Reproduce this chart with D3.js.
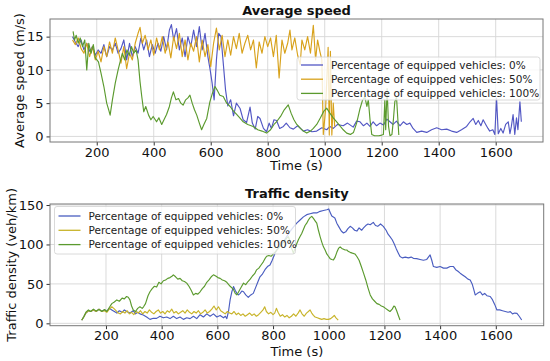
<!DOCTYPE html>
<html><head><meta charset="utf-8">
<script src="https://cdn.jsdelivr.net/npm/d3@7"></script>
<style>body{margin:0;background:#fff}svg{display:block;font-family:"DejaVu Sans",sans-serif}</style>
</head><body><svg id="c" width="550" height="361"></svg>
<script>
const seriesNames = ["Percentage of equipped vehicles: 0%","Percentage of equipped vehicles: 50%","Percentage of equipped vehicles: 100%"];
const xTicks = [200,400,600,800,1000,1200,1400,1600];
const speedTicks = [0,5,10,15];
const densityTicks = [0,50,100,150];

// Average speed (m/s): [time, value]
const speed0 = [[115,15.0],[125,14.2],[135,13.5],[145,14.5],[155,13.0],[165,14.0],[175,12.8],[185,13.5],[195,12.2],[205,13.0],[215,12.5],[225,13.8],[235,12.0],[245,13.5],[255,13.0],[265,14.0],[275,12.5],[285,13.2],[295,14.5],[305,11.5],[315,14.0],[325,12.0],[335,13.5],[345,12.5],[355,14.8],[365,13.0],[375,14.5],[385,12.0],[395,13.8],[405,12.5],[415,14.0],[425,12.8],[435,15.0],[445,13.0],[455,16.0],[462,16.8],[470,14.5],[480,16.2],[490,13.0],[500,14.8],[510,12.0],[520,15.0],[530,13.5],[540,16.0],[550,13.5],[560,16.5],[570,13.0],[580,15.5],[590,12.0],[598,10.0],[605,8.0],[612,5.5],[620,11.5],[628,15.5],[636,15.0],[645,10.5],[652,7.0],[660,4.6],[670,5.5],[680,3.1],[690,5.0],[703,4.2],[714,2.5],[726,2.1],[738,4.4],[746,2.0],[756,1.1],[765,3.0],[773,2.7],[785,1.2],[796,0.7],[805,2.0],[813,1.2],[822,2.5],[831,2.4],[842,1.2],[855,1.5],[865,2.0],[878,1.3],[890,1.1],[905,1.6],[915,1.2],[925,0.8],[940,1.0],[955,0.7],[972,0.8],[990,1.3],[1007,1.0],[1018,1.5],[1030,1.2],[1045,1.8],[1065,1.6],[1080,2.0],[1100,1.4],[1112,2.3],[1124,2.2],[1136,1.6],[1148,2.0],[1159,1.5],[1170,2.2],[1182,1.6],[1194,2.0],[1206,1.7],[1218,2.6],[1229,2.2],[1240,1.8],[1252,2.3],[1264,1.6],[1276,2.2],[1288,1.8],[1299,2.0],[1310,1.2],[1323,0.6],[1340,0.8],[1358,0.6],[1375,1.0],[1393,1.3],[1410,1.0],[1428,1.1],[1445,0.8],[1463,0.6],[1480,1.0],[1498,1.5],[1510,2.2],[1521,2.7],[1530,1.8],[1539,2.4],[1548,1.6],[1556,2.5],[1565,1.8],[1573,1.2],[1579,0.8],[1590,1.0],[1597,0.3],[1603,5.75],[1609,0.4],[1618,1.2],[1626,0.5],[1635,1.8],[1644,2.2],[1650,0.4],[1655,1.5],[1661,3.3],[1667,0.3],[1673,2.8],[1678,1.0],[1685,5.2],[1690,2.2]];
const speed50 = [[115,14.5],[125,13.8],[135,14.8],[145,13.2],[155,12.5],[165,14.0],[175,12.0],[185,13.5],[195,11.5],[205,12.8],[215,11.2],[225,13.5],[235,12.0],[245,14.2],[255,12.5],[265,14.8],[275,13.0],[285,11.0],[295,13.5],[305,10.2],[315,12.5],[325,11.5],[335,14.0],[345,15.5],[352,16.4],[360,14.0],[370,15.2],[380,13.0],[390,14.5],[400,12.2],[410,14.8],[420,13.0],[430,15.0],[440,12.5],[450,14.2],[460,11.8],[470,15.0],[480,13.2],[490,15.5],[500,12.0],[510,14.5],[520,11.5],[530,14.0],[540,12.8],[550,15.0],[560,11.2],[570,14.5],[580,12.0],[590,13.8],[600,10.5],[610,14.0],[620,16.3],[630,13.0],[640,15.2],[650,12.0],[660,14.5],[670,12.2],[680,15.0],[690,13.2],[700,15.5],[710,12.5],[720,14.0],[730,15.2],[740,13.0],[750,14.5],[760,10.3],[770,14.2],[780,12.5],[790,15.0],[800,13.5],[810,14.8],[820,12.0],[830,15.2],[840,8.8],[850,14.5],[860,12.5],[870,14.0],[878,16.0],[885,13.0],[895,14.8],[905,12.2],[914,10.8],[920,14.5],[930,13.0],[940,15.0],[950,12.5],[960,16.7],[968,11.5],[975,14.5],[983,12.8],[990,11.5],[995,0.3],[1003,4.0],[1012,13.4],[1016,0.2],[1020,12.8],[1025,0.2],[1030,5.0],[1035,1.5]];
const speed100 = [[117,15.8],[122,14.5],[128,15.2],[135,14.0],[142,14.8],[150,13.5],[158,14.5],[165,10.0],[172,14.0],[180,12.5],[188,13.8],[195,11.8],[206,11.2],[215,9.5],[225,7.5],[235,5.0],[242,4.0],[247,3.2],[255,5.5],[265,8.0],[275,10.0],[282,11.2],[290,12.5],[298,11.5],[306,13.0],[314,12.2],[322,13.5],[330,12.5],[338,13.0],[345,11.5],[352,8.2],[358,6.0],[365,3.7],[372,4.5],[382,3.2],[390,2.5],[398,3.0],[410,2.2],[418,2.8],[428,1.8],[436,2.5],[445,3.3],[455,4.5],[462,5.8],[469,6.7],[478,5.5],[487,5.7],[495,5.0],[503,4.7],[512,5.5],[520,5.8],[527,6.2],[535,5.0],[543,4.0],[551,3.2],[560,2.0],[568,1.0],[576,1.8],[586,2.7],[597,5.2],[606,6.5],[615,7.5],[622,7.0],[632,6.2],[644,6.0],[656,5.0],[668,4.5],[680,3.8],[691,3.3],[702,2.8],[714,2.2],[730,1.8],[749,1.5],[765,1.0],[780,0.8],[796,0.5],[810,1.0],[822,1.8],[831,2.2],[845,3.0],[858,4.0],[872,4.75],[882,3.5],[892,2.5],[902,1.8],[915,1.2],[925,0.8],[937,0.5],[950,0.8],[960,1.2],[972,1.8],[985,2.8],[997,3.8],[1007,4.25],[1018,3.5],[1030,2.8],[1042,2.2],[1055,1.5],[1065,1.0],[1077,0.5],[1090,0.3],[1101,0.6],[1112,2.0],[1124,4.2],[1133,5.5],[1141,5.9],[1148,4.5],[1153,5.5],[1159,2.5],[1165,0.3],[1175,0.1],[1190,0.1],[1200,0.2],[1206,0.3],[1211,5.5],[1214,1.0],[1219,7.2],[1224,1.5],[1229,0.1],[1236,0.3],[1241,2.5],[1246,5.2],[1252,5.9],[1256,3.0],[1260,0.2]];

// Traffic density (veh/km): [time, value]
const dens0 = [[113,4],[120,8],[128,13],[137,16],[145,15],[155,17],[165,15],[175,18],[185,15.5],[195,17],[203,15],[212,19],[221,17],[230,15],[239,13],[248,16],[258,14],[266,17],[274,15],[286,13],[298,16],[306,12],[314,14],[322,12],[334,10.6],[346,8],[358,5],[370,6.5],[382,6.3],[394,9],[406,7],[418,8],[430,6],[442,9],[454,6],[466,8],[478,5],[490,7],[502,6],[514,9],[526,6],[538,11],[550,8],[562,12],[574,9],[586,12],[598,8],[610,10],[622,7],[629,9],[634,6],[640,15],[646,30],[652,40],[658,46.6],[664,42],[670,38],[676,36],[682,38],[688,41],[694,40],[702,36],[711,33],[720,36],[729,38],[737,45],[745,52],[753,59],[761,62],[771,68],[780,72],[789,74],[797,80],[805,87],[813,93],[822,97],[831,99.6],[840,105],[849,110],[861,116.5],[873,122],[885,127],[897,131],[909,135],[921,137.8],[933,139],[945,140],[957,140],[969,142],[981,143],[993,144],[1000,145],[1006,140],[1011,136],[1022,133.6],[1029,127],[1037,122],[1045,117],[1053,114.5],[1061,116],[1069,120],[1077,123],[1085,121],[1093,118],[1101,117],[1109,121],[1118,118],[1125,121],[1133,124],[1141,126],[1149,125],[1160,128],[1168,124],[1176,123],[1186,126],[1196,123],[1206,118],[1213,113],[1220,110],[1228,106],[1235,101],[1242,95],[1250,89],[1256,84.7],[1264,83],[1275,84],[1286,83],[1296,84],[1304,82.4],[1316,82],[1328,81],[1340,80],[1352,81],[1358,84],[1364,86.7],[1370,80],[1376,72],[1388,71],[1400,72],[1412,70],[1424,70],[1436,72],[1448,72],[1456,68],[1464,66],[1472,63.6],[1482,61],[1490,59],[1500,56],[1508,55],[1515,50],[1520,44],[1526,36],[1534,38],[1544,40],[1552,36],[1560,38],[1568,35],[1580,34],[1588,30],[1596,24],[1604,17],[1614,17],[1624,16],[1634,15],[1644,14],[1652,14.8],[1660,12],[1668,13],[1676,12.7],[1684,9],[1693,4.2]];
const dens50 = [[113,4],[120,8],[128,13],[137,16],[145,15],[155,17],[165,15],[175,18],[185,15],[195,16],[203,14],[212,18],[221,21],[228,19],[236,16],[244,13],[252,12],[260,15],[268,13],[276,16],[284,12],[292,14],[300,11],[308,15],[316,13],[324,16],[332,12],[340,15],[348,13],[356,17],[364,14],[372,12],[380,15],[388,17],[396,13],[404,15],[412,12],[420,16],[428,14],[436,18],[444,13],[452,15],[460,12],[468,14],[476,16],[484,13],[492,17],[500,14],[508,12],[516,15],[524,13],[532,16],[540,12],[548,14],[556,17],[564,13],[572,15],[580,18],[588,22],[596,17],[604,21],[612,16],[620,14],[628,12],[636,15],[644,13],[652,12],[660,15],[668,11],[676,13],[684,10],[692,12],[700,9],[708,11],[716,13],[724,10],[732,12],[740,9],[748,11],[756,14],[764,17],[770,21],[776,15],[784,12],[792,14],[800,11],[806,13],[812,19],[818,14],[826,9],[834,11],[842,8],[850,10],[858,7],[866,9],[874,12],[882,9],[890,13],[897,17],[904,12],[912,9],[920,13],[927,15],[933,17],[939,13],[945,10],[951,8],[959,7],[967,6],[975,5],[983,6],[991,5],[999,5],[1007,6],[1014,8],[1020,10],[1026,7],[1034,4]];
const dens100 = [[113,4.2],[120,8],[128,14],[137,17],[145,15],[155,18],[165,15.5],[175,17.5],[185,15],[195,17.5],[203,15],[212,20],[221,25],[230,27],[239,29.7],[248,28],[258,32],[266,31],[274,34],[280,33],[286,29.7],[292,22],[298,17],[306,15],[314,19],[322,21],[330,19],[335,21],[342,25],[351,35],[358,40],[366,44],[374,47],[382,46],[390,52],[398,50],[406,54],[414,55],[422,57],[430,58],[438,60],[442,61.5],[450,59],[458,56],[466,57],[474,54],[482,53],[490,51],[498,47],[506,42],[514,36],[522,38],[530,37],[538,40],[546,44],[554,47],[562,52],[570,55],[578,59],[586,61.5],[594,60],[602,58],[610,57],[618,55],[626,54],[634,52],[646,47],[658,43],[664,38],[670,36],[678,41],[686,46],[694,51],[702,49],[710,53],[718,56],[726,60],[734,63],[741,67.8],[749,70],[757,74],[765,78],[771,82],[777,85],[785,86],[793,85],[801,88],[809,91],[817,94],[825,97.5],[833,101],[841,104],[849,108],[855,110],[861,104],[867,95],[873,89],[879,95],[885,101],[891,106],[897,110],[903,114],[909,119],[915,124],[921,127],[927,131],[933,134],[939,135.6],[945,133],[951,130],[957,127],[963,118],[969,110],[975,103],[981,97],[987,93],[993,88],[999,85],[1005,82],[1011,81],[1017,80.5],[1023,84],[1029,90],[1035,95],[1041,97],[1047,95],[1053,94],[1059,93],[1065,93],[1071,91],[1077,90],[1085,89],[1094,88],[1101,84.7],[1109,80],[1117,72],[1125,63.6],[1133,55],[1141,45],[1149,36],[1157,31],[1165,28],[1173,25],[1181,24],[1189,22],[1196,21],[1204,19],[1212,17],[1220,15],[1228,18],[1234,22],[1238,21],[1244,16],[1250,10],[1256,4.2]];

const svg = d3.select("#c");
const FONT = 13;

function panel(cfg){
  const {xDom, yDom, left, right, top, bottom, yTicks, series, colors, title, ylabel, titleY, xlabY, ylabX, legend} = cfg;
  const x = d3.scaleLinear().domain(xDom).range([left,right]);
  const y = d3.scaleLinear().domain(yDom).range([bottom,top]);
  const g = svg.append("g");
  const clipId = "clip"+Math.round(top);
  svg.append("clipPath").attr("id",clipId).append("rect").attr("x",left).attr("y",top).attr("width",right-left).attr("height",bottom-top);
  g.append("g").selectAll("line").data(xTicks).join("line")
    .attr("x1",d=>x(d)).attr("x2",d=>x(d)).attr("y1",top).attr("y2",bottom)
    .attr("stroke","#d6d6d6").attr("stroke-width",0.9);
  g.append("g").selectAll("line").data(yTicks).join("line")
    .attr("x1",left).attr("x2",right).attr("y1",d=>y(d)).attr("y2",d=>y(d))
    .attr("stroke","#d6d6d6").attr("stroke-width",0.9);
  const line = d3.line().x(d=>x(d[0])).y(d=>y(d[1]));
  const lg = g.append("g").attr("clip-path",`url(#${clipId})`);
  series.forEach((s,i)=>{
    lg.append("path").datum(s).attr("d",line).attr("fill","none")
      .attr("stroke",colors[i]).attr("stroke-width",1.15).attr("stroke-linejoin","round");
  });
  const xa = g.append("g").attr("transform",`translate(0,${bottom})`)
    .call(d3.axisBottom(x).tickValues(xTicks).tickFormat(d3.format("d")).tickSize(3.5).tickPadding(2));
  const ya = g.append("g").attr("transform",`translate(${left},0)`)
    .call(d3.axisLeft(y).tickValues(yTicks).tickFormat(d3.format("d")).tickSize(3.5).tickPadding(3));
  [xa,ya].forEach(a=>{
    a.select(".domain").remove();
    a.selectAll("text").attr("font-size",FONT).attr("fill","#111").attr("font-family","DejaVu Sans");
    a.selectAll("line").attr("stroke","#333");
  });
  g.append("rect").attr("x",left).attr("y",top).attr("width",right-left).attr("height",bottom-top)
    .attr("fill","none").attr("stroke","#777").attr("stroke-width",1);
  svg.append("text").attr("x",(left+right)/2).attr("y",titleY).attr("text-anchor","middle")
    .attr("font-size",FONT).attr("font-weight","bold").attr("fill","#111").text(title);
  svg.append("text").attr("x",(left+right)/2).attr("y",xlabY).attr("text-anchor","middle")
    .attr("font-size",FONT).attr("fill","#111").text("Time (s)");
  svg.append("text").attr("transform",`translate(${ylabX},${(top+bottom)/2}) rotate(-90)`)
    .attr("text-anchor","middle").attr("font-size",FONT).attr("fill","#111").text(ylabel);
  const L = legend;
  const lgd = svg.append("g");
  lgd.append("rect").attr("x",L.x).attr("y",L.y).attr("width",L.w).attr("height",L.h).attr("rx",2.5)
    .attr("fill","#fff").attr("fill-opacity",0.8).attr("stroke","#d0d0d0").attr("stroke-width",0.8);
  seriesNames.forEach((n,i)=>{
    const yy = L.y + L.row0 + i*L.dy;
    lgd.append("line").attr("x1",L.x+4).attr("x2",L.x+26).attr("y1",yy).attr("y2",yy)
      .attr("stroke",colors[i]).attr("stroke-width",1.3);
    lgd.append("text").attr("x",L.x+34).attr("y",yy+3.8).attr("font-size",L.fs).attr("fill","#222").text(n);
  });
}

panel({xDom:[36,1766], yDom:[-0.84,17.65], left:50, right:543, top:19, bottom:142,
  yTicks:speedTicks, series:[speed0,speed50,speed100], colors:["#5257c4","#d8a21c","#5b9a2e"],
  title:"Average speed", ylabel:"Average speed (m/s)", titleY:14.5, xlabY:170, ylabX:24,
  legend:{x:297,y:57,w:243,h:43,row0:8,dy:14.2,fs:10.5}});
panel({xDom:[-1,1772], yDom:[-3,151.3], left:50, right:543.7, top:204, bottom:325.7,
  yTicks:densityTicks, series:[dens0,dens50,dens100], colors:["#4a5dc0","#c8b42a","#5b9a2e"],
  title:"Traffic density", ylabel:"Traffic density (veh/km)", titleY:198, xlabY:356, ylabX:16,
  legend:{x:54.5,y:206.5,w:241,h:47.5,row0:9.5,dy:14.3,fs:10.5}});
</script></body></html>
